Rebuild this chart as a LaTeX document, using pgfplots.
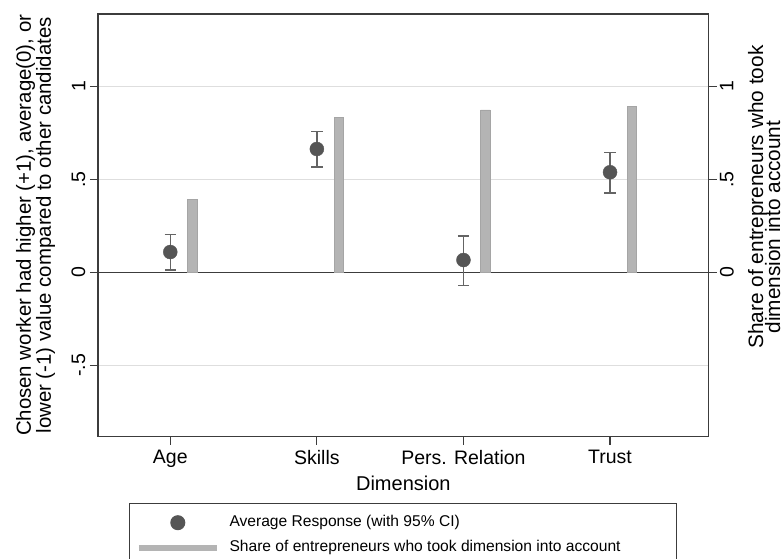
\documentclass[border=0pt]{standalone}
\usepackage{pgfplots}
\pgfplotsset{compat=1.18}
\usepackage{fontspec}
\setmainfont{Liberation Sans}
\definecolor{framecol}{RGB}{60,60,60}
\definecolor{gridcol}{RGB}{222,222,222}
\definecolor{markcol}{RGB}{85,85,85}
\definecolor{errcol}{RGB}{100,100,100}
\definecolor{barfill}{RGB}{180,180,180}
\definecolor{bardraw}{RGB}{165,165,165}
\begin{document}
\begin{tikzpicture}
\useasboundingbox (0,0) rectangle (783bp,559bp);
\pgfplotsset{
  common/.style={
    at={(98bp,122.3bp)}, anchor=south west,
    scale only axis, width=610.7bp, height=422.7bp,
    xmin=0.507, xmax=4.673, ymin=-0.884, ymax=1.389,
    axis line style={color=framecol, line width=1.1bp},
    tick align=outside, major tick length=8bp,
    every tick/.style={color=framecol, line width=1.1bp},
    /pgf/number format/assume math mode=true,
    tick label style={font=\fontsize{19.5bp}{22bp}\selectfont},
  }
}
\begin{axis}[common,
  xtick={1,2,3,4}, xticklabels={Age,Skills,Pers. Relation,Trust},
  ytick={-0.5,0,0.5,1}, yticklabels={-.5,0,.5,1},
  xtick pos=left, ytick pos=left,
  ymajorgrids, grid style={color=gridcol, line width=1bp},
  yticklabel style={rotate=90, anchor=south, inner sep=4.5bp},
  xticklabel style={anchor=north, inner sep=5.5bp},
  xlabel={Dimension},
  xlabel style={at={(axis description cs:0.5,-0.1278)}, anchor=base, font=\fontsize{20bp}{22bp}\selectfont},
  ylabel={Chosen worker had higher (+1), average(0), or\\lower (-1) value compared to other candidates},
  ylabel style={at={(axis description cs:-0.1023,0.5)}, anchor=center, align=center, font=\fontsize{20.4bp}{18bp}\selectfont},
]
\addplot[color=framecol, line width=1.1bp, forget plot] coordinates {(0.507,0) (4.673,0)};
\addplot[only marks, mark=*, mark size=7bp, color=markcol,
  error bars/.cd, y dir=both, y explicit,
  error bar style={line width=1.5bp, color=errcol},
  error mark options={rotate=90, mark size=5.7bp, line width=1.5bp, color=errcol}]
  coordinates {
  (1,0.109) += (0,0.093) -= (0,0.097)
  (2,0.663) += (0,0.093) -= (0,0.097)
  (3,0.066) += (0,0.128) -= (0,0.138)
  (4,0.538) += (0,0.107) -= (0,0.112)
  };
\end{axis}
\begin{axis}[common,
  axis x line=none, axis y line*=right,
  ytick={0,0.5,1}, yticklabels={0,.5,1},
  yticklabel style={rotate=90, anchor=north, inner sep=3bp},
  legend style={at={(axis description cs:0.05125,-0.15756)}, anchor=north west,
    draw=framecol, line width=1bp, inner xsep=6bp, inner ysep=11.4bp,
    column sep=9.7bp, row sep=10.5bp,
    font=\fontsize{15.6bp}{18bp}\selectfont,
    nodes={inner sep=0pt, text height=11bp, text depth=3.5bp, anchor=west}},
  legend cell align=left,
]
\addlegendimage{legend image code/.code={\path[draw=none] (0bp,0bp) -- (78bp,0bp); \fill[markcol] (39bp,0bp) circle (7bp);}}
\addlegendentry{Average Response (with 95\% CI)}
\addplot[ybar, bar width=9.4bp, fill=barfill, draw=bardraw, line width=0.6bp,
  legend image code/.code={\draw[line width=6bp, barfill] (0bp,0bp) -- (78bp,0bp);}]
  coordinates {(1.15,0.392) (2.15,0.835) (3.15,0.873) (4.15,0.894)};
\addlegendentry{\makebox[440.7bp][l]{Share of entrepreneurs who took dimension into account}}
\end{axis}
\node[rotate=90, anchor=base, inner sep=0pt, font=\fontsize{20.8bp}{22bp}\selectfont] at (763bp,362bp) {Share of entrepreneurs who took};
\node[rotate=90, anchor=base, inner sep=0pt, font=\fontsize{20.8bp}{22bp}\selectfont] at (780bp,332bp) {dimension into account};
\end{tikzpicture}
\end{document}
